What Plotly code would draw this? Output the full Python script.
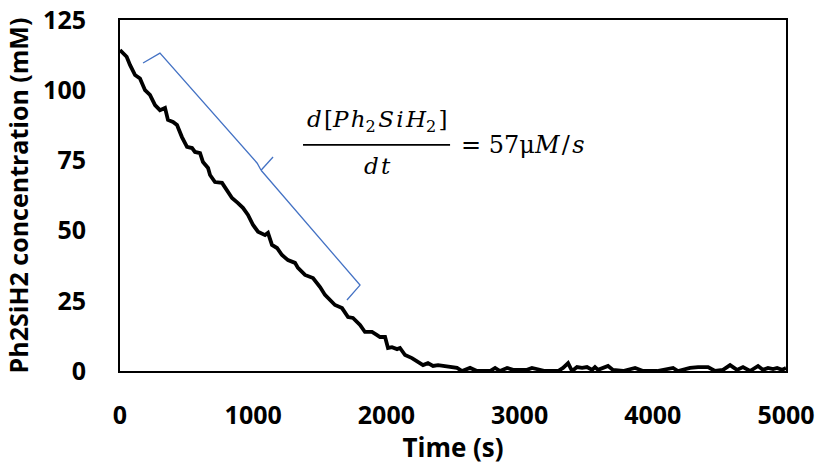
import plotly.graph_objects as go

# ---- data ----
time_s = [0, 50, 75, 113, 150, 188, 225, 263, 300, 338, 360, 398, 428, 465, 503, 541, 563, 601,
          623, 661, 676, 713, 766, 803, 841, 886, 923, 961, 999, 1036, 1089, 1111, 1141, 1179,
          1216, 1261, 1314, 1336, 1389, 1449, 1502, 1539, 1577, 1614, 1667, 1712, 1749, 1802,
          1839, 1892, 1930, 1952, 1990, 2012, 2042, 2080, 2102, 2140, 2192, 2237, 2275, 2312,
          2350, 2388, 2440, 2493, 2530, 2568, 2628, 2680, 2778, 2816, 2853, 2906, 2951, 3003,
          3056, 3093, 3138, 3191, 3289, 3326, 3364, 3394, 3431, 3469, 3506, 3544, 3566, 3589,
          3664, 3701, 3777, 3867, 3927, 4032, 4152, 4189, 4280, 4340, 4415, 4467, 4527, 4580,
          4632, 4677, 4730, 4790, 4828, 4865, 4903, 4933, 4970, 5000]
conc_mM = [114.3, 111.9, 109.0, 105.4, 104.2, 100.0, 98.3, 94.7, 92.9, 93.7, 89.4, 88.7, 87.6,
           83.3, 79.8, 79.4, 78.0, 77.6, 74.4, 72.3, 69.8, 67.3, 67.0, 64.5, 61.6, 59.8, 58.1,
           55.6, 52.0, 49.6, 48.4, 49.2, 44.9, 43.8, 41.3, 39.5, 38.5, 36.7, 34.2, 33.1, 29.9,
           27.1, 25.3, 23.5, 22.4, 19.2, 18.9, 16.4, 13.9, 13.9, 12.8, 12.1, 12.1, 8.2, 8.5,
           7.8, 8.2, 5.7, 4.6, 3.2, 2.1, 2.8, 1.8, 2.1, 1.8, 1.4, 1.1, 0.0, 1.1, 0.0, 0.0, 1.1,
           0.0, 1.1, 0.4, 0.4, 0.4, 1.1, 0.7, 0.0, 0.0, 1.1, 2.8, 0.0, 1.4, 1.1, 1.4, 0.4, 1.4,
           0.4, 1.8, 0.4, 0.0, 1.1, 0.0, 0.0, 1.1, 0.0, 1.1, 1.4, 1.4, 0.0, 0.4, 2.1, 0.4, 1.4,
           0.0, 1.8, 0.4, 1.1, 0.7, 1.1, 0.4, 1.1]

x_ticks = [0, 1000, 2000, 3000, 4000, 5000]
y_ticks = [0, 25, 50, 75, 100, 125]

# brace annotation (data coordinates)
brace_upper_t = [173, 300, 1030, 1059]
brace_upper_c = [109.7, 113.2, 74.0, 71.5]
brace_tip_t = [1059, 1149]
brace_tip_c = [71.5, 76.2]
brace_lower_t = [1059, 1802, 1704]
brace_lower_c = [71.5, 30.6, 25.3]

# equation placement (data coordinates)
frac_center_t = 1930
frac_bar_t = [1374, 2478]
frac_bar_c = 80.5
numer_c = 89.0
denom_c = 73.0
rhs_left_t = 2545
rhs_c = 80.5

FONT = "Open Sans"
MATH_FONT = "DejaVu Serif"
BLUE = "#4472C4"

fig = go.Figure()
fig.add_trace(go.Scatter(x=time_s, y=conc_mM, mode="lines",
                         line=dict(color="black", width=3.8), showlegend=False,
                         hoverinfo="skip"))


def path(ts, cs):
    return "M " + " L ".join(f"{t},{c}" for t, c in zip(ts, cs))


for ts, cs in [(brace_upper_t, brace_upper_c), (brace_tip_t, brace_tip_c),
               (brace_lower_t, brace_lower_c)]:
    fig.add_shape(type="path", path=path(ts, cs), xref="x", yref="y",
                  line=dict(color=BLUE, width=1.3))

fig.add_shape(type="line", xref="x", yref="y", x0=frac_bar_t[0], x1=frac_bar_t[1],
              y0=frac_bar_c, y1=frac_bar_c, line=dict(color="black", width=1.8))

hs = "\u200a"
numer = ("<i>d</i>" + hs + "[<i>P</i>" + hs + "<i>h</i><sub>2</sub>" + hs +
         "<i>S</i>" + hs + "<i>i</i>" + hs + "<i>H</i><sub>2</sub>" + hs + "]")
fig.add_annotation(x=frac_center_t, y=numer_c, xref="x", yref="y", text=numer,
                   showarrow=False, font=dict(family=MATH_FONT, size=23, color="black"))
fig.add_annotation(x=frac_center_t, y=denom_c, xref="x", yref="y",
                   text="<i>d</i>" + hs + "<i>t</i>",
                   showarrow=False, font=dict(family=MATH_FONT, size=23, color="black"))
fig.add_annotation(x=rhs_left_t, y=rhs_c, xref="x", yref="y", xanchor="left",
                   text="= 57μ<i>M</i>" + hs + "/" + hs + "<i>s</i>",
                   showarrow=False, font=dict(family=MATH_FONT, size=24, color="black"))

fig.update_layout(
    width=819, height=465,
    margin=dict(l=120, r=33, t=20, b=94),
    paper_bgcolor="white", plot_bgcolor="white",
    font=dict(family=FONT, color="black"),
    showlegend=False,
)
fig.update_xaxes(range=[0, 5000], tickvals=x_ticks, ticktext=[str(v) for v in x_ticks],
                 automargin=False,
                 showgrid=False, zeroline=False, showline=True, mirror=True,
                 linecolor="black", linewidth=2,
                 ticks="outside", ticklen=21, tickcolor="rgba(0,0,0,0)",
                 tickfont=dict(family=FONT, size=25, color="black", weight="bold"),
                 title=dict(text="<b>Time (s)</b>", standoff=0,
                            font=dict(family=FONT, size=26, color="black")))
fig.update_yaxes(range=[0, 125], tickvals=y_ticks, ticktext=[str(v) for v in y_ticks],
                 automargin=False,
                 showgrid=False, zeroline=False, showline=True, mirror=True,
                 linecolor="black", linewidth=2,
                 ticks="outside", ticklen=27, tickcolor="rgba(0,0,0,0)",
                 tickfont=dict(family=FONT, size=25, color="black", weight="bold"),
                 title=dict(text="<b>Ph2SiH2 concentration (mM)</b>", standoff=7,
                            font=dict(family=FONT, size=25, color="black")))

fig.write_html("out.html")
